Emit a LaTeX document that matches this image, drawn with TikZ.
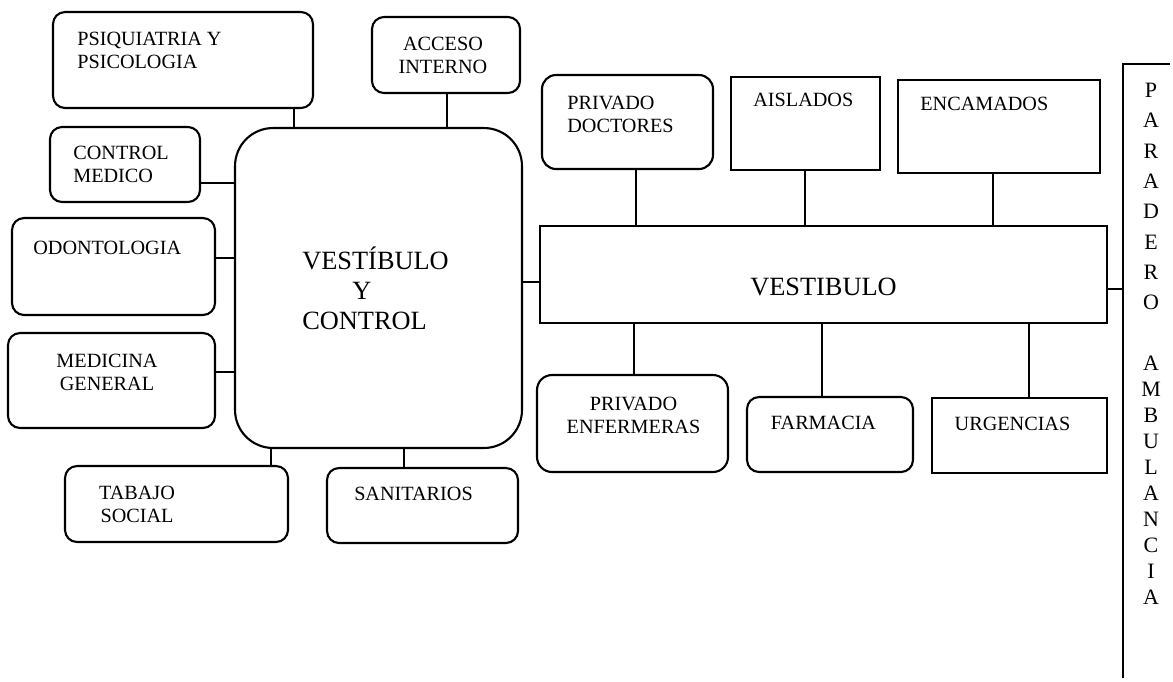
\documentclass[tikz,border=0pt]{standalone}
\usepackage{fontspec}
\setmainfont{Liberation Serif}
\tikzset{
    room/.style={draw, line width=1.2pt, inner sep=0pt},
    roomr/.style={room, rounded corners=0.24cm},
    lbl/.style={inner sep=0pt, font=\fontsize{11.5}{13.5}\selectfont},
    link/.style={line width=1pt}
}
\begin{document}
\begin{tikzpicture}[x=0.02cm, y=-0.02cm]
    \useasboundingbox (0,0) rectangle (1173,681);

    % Left wing
    \node[room, rounded corners=0.76cm, minimum width=5.74cm, minimum height=6.4cm] (central) at (378.5,288) {};
    \node[roomr, minimum width=5.2cm, minimum height=1.92cm] (psiq) at (183,60) {};
    \node[roomr, minimum width=2.96cm, minimum height=1.52cm] (acceso) at (446,55) {};
    \node[roomr, minimum width=3.0cm, minimum height=1.5cm] (ctrlmed) at (125,164.5) {};
    \node[roomr, minimum width=4.06cm, minimum height=1.94cm] (odonto) at (113.5,266.5) {};
    \node[roomr, minimum width=4.14cm, minimum height=1.9cm] (medgen) at (111.5,380.5) {};
    \node[roomr, minimum width=4.46cm, minimum height=1.52cm] (tabajo) at (176.5,504) {};
    \node[roomr, minimum width=3.82cm, minimum height=1.5cm] (sanit) at (422.5,505.5) {};

    \node[inner sep=0pt, anchor=west, align=left, font=\fontsize{15}{17}\selectfont] (centraltxt) at (302,288)
        {VESTÍBULO\\\hspace*{1cm}Y\\CONTROL};
    \node[lbl, anchor=north west, align=left] (psiqtxt) at (77,31.5) {PSIQUIATRIA Y\\PSICOLOGIA};
    \node[lbl, anchor=north, align=center] (accesotxt) at (443,36.5) {ACCESO\\INTERNO};
    \node[lbl, anchor=north west, align=left] (ctrlmedtxt) at (73,145.5) {CONTROL\\MEDICO};
    \node[lbl, anchor=north west] (odontotxt) at (33,240.5) {ODONTOLOGIA};
    \node[lbl, anchor=north, align=center] (medgentxt) at (107,353.5) {MEDICINA\\GENERAL};
    \node[lbl, anchor=north, align=center] (tabajotxt) at (137,485.5) {TABAJO\\SOCIAL};
    \node[lbl, anchor=north] (sanittxt) at (413.5,486.5) {SANITARIOS};

    \draw[link] (psiq.south -| 294,0) -- (central.north -| 294,0);
    \draw[link] (acceso.south -| 447,0) -- (central.north -| 447,0);
    \draw[link] (ctrlmed.east |- 0,183) -- (central.west |- 0,183);
    \draw[link] (odonto.east |- 0,258) -- (central.west |- 0,258);
    \draw[link] (medgen.east |- 0,372) -- (central.west |- 0,372);
    \draw[link] (central.south -| 271,0) -- (tabajo.north -| 271,0);
    \draw[link] (central.south -| 404,0) -- (sanit.north -| 404,0);

    % Right wing
    \node[room, minimum width=11.34cm, minimum height=1.94cm] (vest) at (823.5,274.5) {};
    \node[room, rounded corners=0.28cm, minimum width=3.42cm, minimum height=1.88cm] (privdoc) at (627.5,122) {};
    \node[room, minimum width=2.98cm, minimum height=1.86cm] (aislados) at (805.5,123.5) {};
    \node[room, minimum width=4.04cm, minimum height=1.86cm] (encam) at (999,126.5) {};
    \node[room, rounded corners=0.3cm, minimum width=3.82cm, minimum height=1.94cm] (privenf) at (632.5,423.5) {};
    \node[roomr, minimum width=3.32cm, minimum height=1.5cm] (farm) at (830,434.5) {};
    \node[room, minimum width=3.5cm, minimum height=1.5cm] (urg) at (1019.5,435.5) {};
    \node[inner sep=0pt, outer sep=0pt, minimum width=0.94cm, minimum height=12.28cm] (parad) at (1146.5,371) {};
    \draw[line width=1.2pt] (parad.north east) -- (parad.north west) -- (parad.south west);

    \node[inner sep=0pt, font=\fontsize{15}{17}\selectfont] (vesttxt) at (823.5,287) {VESTIBULO};
    \node[lbl, anchor=north west, align=left] (privdoctxt) at (567,95.5) {PRIVADO\\DOCTORES};
    \node[lbl, anchor=north west] (aisladostxt) at (753,92.5) {AISLADOS};
    \node[lbl, anchor=north west] (encamtxt) at (920,96.5) {ENCAMADOS};
    \node[lbl, anchor=north, align=center] (privenftxt) at (633.5,396.5) {PRIVADO\\ENFERMERAS};
    \node[lbl, anchor=north] (farmtxt) at (823.5,415.5) {FARMACIA};
    \node[lbl, anchor=north] (urgtxt) at (1012.5,416.5) {URGENCIAS};
    \node[inner sep=0pt, align=center, font=\fontsize{12.5}{17.3}\selectfont] (paradtop) at (1151,196.5)
        {P\\A\\R\\A\\D\\E\\R\\O};
    \node[inner sep=0pt, align=center, font=\fontsize{12.5}{14.8}\selectfont] (paradbot) at (1151,480.5)
        {A\\M\\B\\U\\L\\A\\N\\C\\I\\A};

    \draw[link] (central.east |- 0,282) -- (vest.west |- 0,282);
    \draw[link] (privdoc.south -| 636,0) -- (vest.north -| 636,0);
    \draw[link] (aislados.south -| 805,0) -- (vest.north -| 805,0);
    \draw[link] (encam.south -| 993,0) -- (vest.north -| 993,0);
    \draw[link] (vest.south -| 634,0) -- (privenf.north -| 634,0);
    \draw[link] (vest.south -| 822,0) -- (farm.north -| 822,0);
    \draw[link] (vest.south -| 1029,0) -- (urg.north -| 1029,0);
    \draw[link] (vest.east |- 0,289) -- (parad.west |- 0,289);

\end{tikzpicture}
\end{document}
